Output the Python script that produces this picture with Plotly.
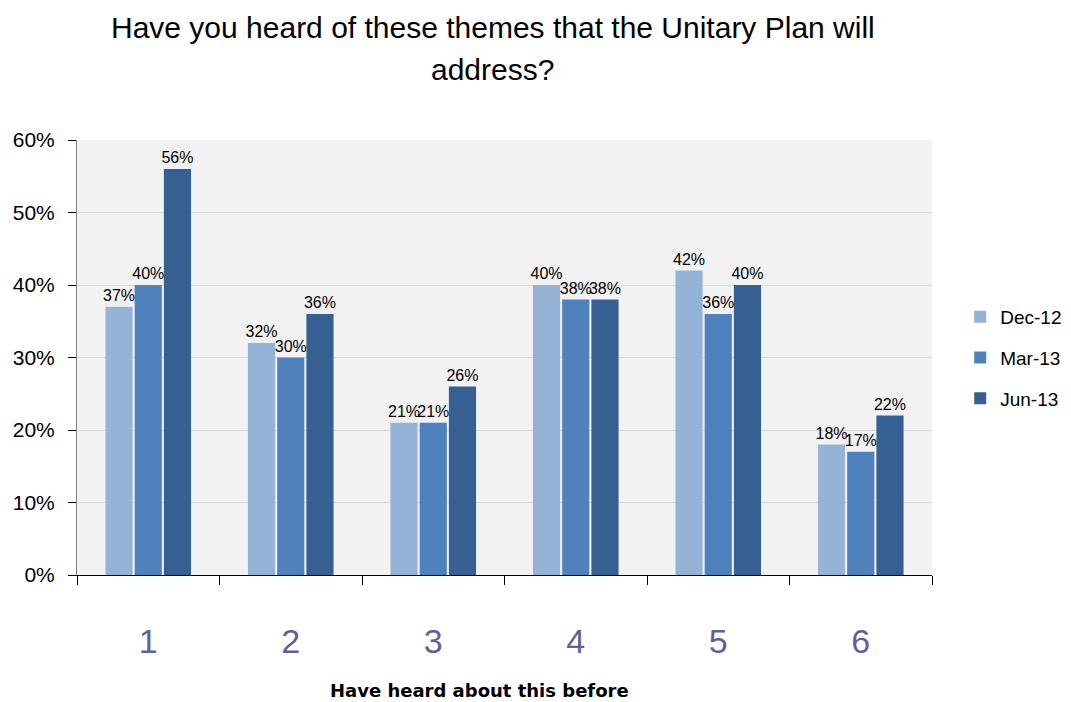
import plotly.graph_objects as go

categories = ["1", "2", "3", "4", "5", "6"]
series_names = ["Dec-12", "Mar-13", "Jun-13"]
dec12 = [0.37, 0.32, 0.21, 0.40, 0.42, 0.18]
mar13 = [0.40, 0.30, 0.21, 0.38, 0.36, 0.17]
jun13 = [0.56, 0.36, 0.26, 0.38, 0.40, 0.22]
colors = ["#95b3d7", "#4f81bd", "#366092"]
title_lines = ["Have you heard of these themes that the Unitary Plan will", "address?"]
x_title = "Have heard about this before"

fig = go.Figure()
for name, vals, col in zip(series_names, [dec12, mar13, jun13], colors):
    fig.add_trace(go.Bar(
        x=categories, y=vals, name=name, marker_color=col,
        marker_line_width=0,
        text=[f"{round(v*100)}%" for v in vals],
        textposition="outside", cliponaxis=False, constraintext="none",
        textfont=dict(family="Liberation Sans, Arial", size=16, color="#000000"),
        legendgroup=name,
    ))

PH = 435.0
fig.update_layout(
    width=1063, height=694,
    paper_bgcolor="white", plot_bgcolor="#f2f2f2",
    margin=dict(l=69, r=139, t=132, b=127, autoexpand=False),
    font=dict(family="Liberation Sans, Arial", color="#000000"),
    barmode="group", bargap=0.385, bargroupgap=0.07,
    showlegend=True,
    legend=dict(x=1.033, xanchor="left", y=0.637, yanchor="top",
                font=dict(size=19), tracegroupgap=13, bgcolor="rgba(0,0,0,0)"),
    xaxis=dict(tickson="boundaries", ticks="outside", ticklen=9, tickcolor="#000000",
               showline=True, linecolor="#000000", linewidth=1, automargin=False,
               tickfont=dict(size=34, color="#5f5f9a"), ticklabelstandoff=36,
               showgrid=False),
    yaxis=dict(range=[0, 0.6], dtick=0.1, tickformat=".0%", ticks="outside", ticklen=8,
               tickcolor="#000000", showline=True, linecolor="#808080", linewidth=1,
               automargin=False, ticklabelstandoff=9,
               gridcolor="#d9d9d9", tickfont=dict(size=21), zeroline=False),
    annotations=[
        dict(text=title_lines[0], xref="paper", yref="paper", x=0.4865, y=1 + 113/PH,
             xanchor="center", yanchor="middle", showarrow=False,
             font=dict(size=30, color="#000000")),
        dict(text=title_lines[1], xref="paper", yref="paper", x=0.4865, y=1 + 70/PH,
             xanchor="center", yanchor="middle", showarrow=False,
             font=dict(size=30, color="#000000")),
        dict(text=f"<b>{x_title}</b>", xref="paper", yref="paper", x=0.471, y=-115/PH,
             xanchor="center", yanchor="middle", showarrow=False,
             font=dict(family="DejaVu Sans", size=18, color="#000000")),
    ],
)

fig.write_html("out.html")
